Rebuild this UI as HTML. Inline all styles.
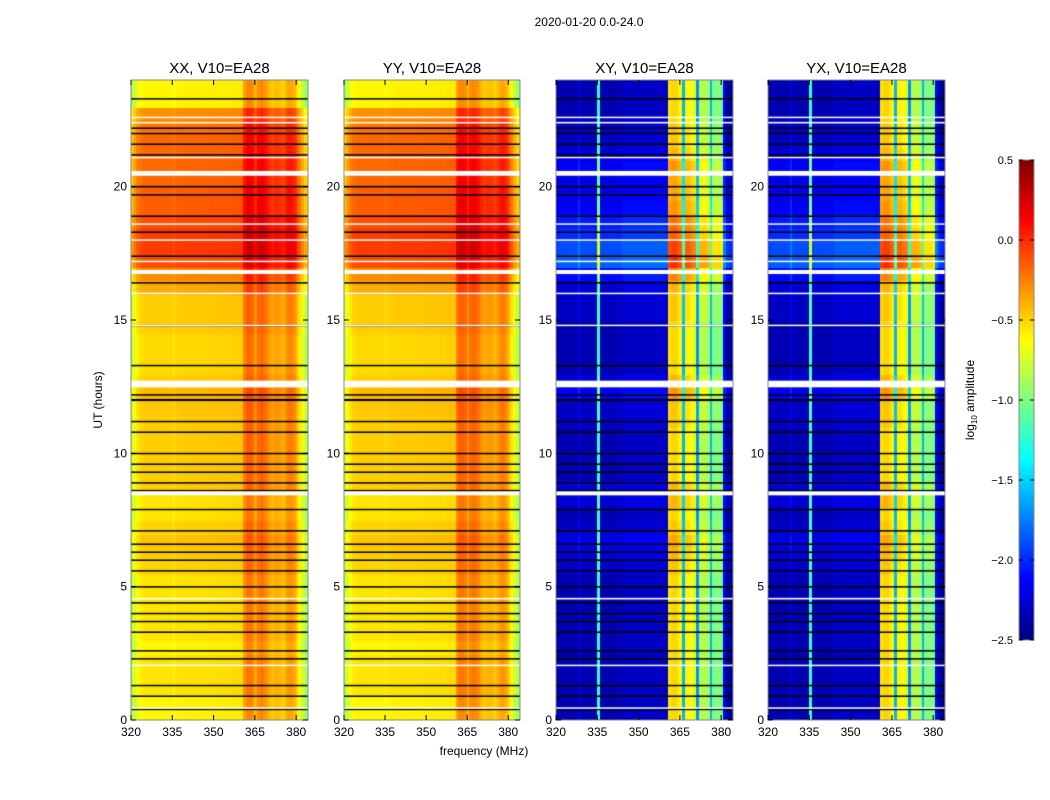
<!DOCTYPE html>
<html><head><meta charset="utf-8"><style>
body{margin:0;background:#fff;font-family:"Liberation Sans",sans-serif;}
#root{position:relative;width:1050px;height:800px;overflow:hidden;}
canvas{position:absolute;}
svg{position:absolute;left:0;top:0;}
</style></head><body>
<div id="root">
<canvas id="c0" width="177" height="640" style="left:131px;top:80px"></canvas>
<canvas id="c1" width="176" height="640" style="left:344px;top:80px"></canvas>
<canvas id="c2" width="177" height="640" style="left:556px;top:80px"></canvas>
<canvas id="c3" width="177" height="640" style="left:768px;top:80px"></canvas>
<canvas id="cb" width="15" height="480" style="left:1019px;top:160px"></canvas>
<svg id="ov" width="1050" height="800"></svg>
</div>
<script>
// frequency bins 320..383 MHz (1 MHz each)
const freqStart = 320;
const freqParallel = [-0.9,-0.78,-0.68,-0.63,-0.61,-0.6,-0.6,-0.6,-0.6,-0.6,-0.6,-0.6,-0.6,-0.6,-0.6,-0.63,-0.6,-0.6,-0.59,-0.59,-0.59,-0.59,-0.59,-0.59,-0.59,-0.59,-0.59,-0.59,-0.59,-0.58,-0.58,-0.58,-0.58,-0.58,-0.58,-0.58,-0.58,-0.57,-0.57,-0.57,-0.57,-0.35,-0.27,-0.27,-0.3,-0.42,-0.3,-0.27,-0.3,-0.35,-0.42,-0.48,-0.44,-0.44,-0.46,-0.5,-0.42,-0.36,-0.36,-0.42,-0.52,-0.66,-0.8,-0.92];
const freqCross = [-2.4,-2.35,-2.35,-2.35,-2.35,-2.35,-2.35,-2.35,-2.2,-2.35,-2.35,-2.35,-2.35,-2.35,-2.35,-1.2,-2.35,-2.35,-2.35,-2.35,-2.35,-2.35,-2.35,-2.35,-2.3,-2.3,-2.3,-2.3,-2.3,-2.3,-2.3,-2.3,-2.3,-2.3,-2.3,-2.3,-2.3,-2.3,-2.3,-2.3,-2.3,-0.55,-0.5,-0.5,-0.55,-0.6,-1.6,-0.6,-0.6,-0.65,-0.7,-1.7,-0.85,-0.85,-0.85,-0.9,-1.6,-1.0,-1.0,-1.0,-1.05,-2.2,-2.4,-2.45];
// time rows, 0.5 h each from 0 to 24 h
const timeParallel = [0,0,0.05,0.05,0.05,0,0.05,0.05,0.05,0.05,0.05,0.1,0.12,0.15,0.1,0.05,0.05,0.12,0.12,0.12,0.12,0.12,0.12,0.14,0.18,0.12,0.08,0.08,0.08,0.12,0.12,0.12,0.22,0.32,0.5,0.55,0.55,0.5,0.45,0.45,0.42,0.42,0.42,0.42,0.38,0.3,0,0];
const timeCross = [0,0,0,0,0,0,0,0,0,0,0,0.05,0.1,0.15,0.05,0,0.1,0.1,0,0,0,0,0.05,0.05,0.2,0.1,0,0,0,0,0.05,0.05,0.1,0.25,0.5,0.45,0.35,0.3,0.2,0.15,0.15,0.2,0.1,0.05,0.05,0,0,0];
// flagged rows: [hour, thickness in hours]
const whiteFlags = [[0.45,0.05],[2.05,0.05],[4.55,0.06],[8.5,0.15],[12.6,0.25],[14.8,0.05],[16.0,0.05],[16.8,0.15],[17.2,0.05],[18.0,0.05],[18.6,0.05],[20.5,0.18],[21.1,0.04],[22.4,0.06],[22.6,0.05]];
const blackFlags = [[0.4,0.05],[0.9,0.04],[1.3,0.04],[2.3,0.04],[2.6,0.04],[3.3,0.04],[3.7,0.04],[4.0,0.04],[4.4,0.04],[5.0,0.04],[5.6,0.04],[6.0,0.04],[6.3,0.04],[6.6,0.04],[7.1,0.04],[7.9,0.04],[8.6,0.06],[8.9,0.04],[9.3,0.04],[9.6,0.04],[10.0,0.04],[10.8,0.04],[11.2,0.04],[12.0,0.08],[12.2,0.04],[13.3,0.04],[14.8,0.04],[16.4,0.04],[17.4,0.04],[18.3,0.04],[18.9,0.04],[19.7,0.04],[20.0,0.06],[21.2,0.04],[21.6,0.04],[22.0,0.04],[22.2,0.04],[23.3,0.04]];
const xTicks = [320,335,350,365,380];
const yTicks = [0,5,10,15,20];
const cbTicks = [0.5,0.0,-0.5,-1.0,-1.5,-2.0,-2.5];
const titles = ["XX, V10=EA28","YY, V10=EA28","XY, V10=EA28","YX, V10=EA28"];

const panels=[{l:131,w:177,c:'c0',cross:false},{l:344,w:176,c:'c1',cross:false},{l:556,w:177,c:'c2',cross:true},{l:768,w:177,c:'c3',cross:true}];
const TOP=80,H=640,FMIN=320,FMAX=384.3,TMAX=24,VMIN=-2.5,VMAX=0.5;
function jet(v){v=Math.max(0,Math.min(1,v));const cl=x=>Math.round(255*Math.max(0,Math.min(1,x)));
return 'rgb('+cl(1.5-Math.abs(4*v-3))+','+cl(1.5-Math.abs(4*v-2))+','+cl(1.5-Math.abs(4*v-1))+')';}
function norm(v){return (v-VMIN)/(VMAX-VMIN);}
panels.forEach(p=>{
  const ctx=document.getElementById(p.c).getContext('2d');
  const xs=f=>(f-FMIN)/(FMAX-FMIN)*p.w;
  const ys=t=>H-t/TMAX*H;
  const fp=p.cross?freqCross:freqParallel, tp=p.cross?timeCross:timeParallel;
  tp.forEach((to,ti)=>{
    fp.forEach((fv,fi)=>{
      const x0=xs(freqStart+fi),x1=xs(freqStart+fi+1);
      const y0=ys((ti+1)*0.5),y1=ys(ti*0.5);
      ctx.fillStyle=jet(norm(fv+to));
      ctx.fillRect(Math.floor(x0),Math.floor(y0),Math.ceil(x1-x0)+1,Math.ceil(y1-y0)+1);
    });
  });
  blackFlags.forEach(b=>{ctx.fillStyle='#000';const y=ys(b[0]+b[1]/2);ctx.fillRect(0,y,p.w,Math.max(1.5,b[1]/TMAX*H));});
  whiteFlags.forEach(b=>{ctx.fillStyle='#fff';const y=ys(b[0]+b[1]/2);ctx.fillRect(0,y,p.w,Math.max(1.5,b[1]/TMAX*H));});
});
// colorbar
(function(){const ctx=document.getElementById('cb').getContext('2d');
for(let y=0;y<480;y++){ctx.fillStyle=jet(1-y/479);ctx.fillRect(0,y,15,1);}})();
// overlay
const NS='http://www.w3.org/2000/svg',ov=document.getElementById('ov');
function el(tag,attrs,txt){const e=document.createElementNS(NS,tag);for(const k in attrs)e.setAttribute(k,attrs[k]);if(txt!==undefined)e.textContent=txt;ov.appendChild(e);return e;}
panels.forEach((p,i)=>{
  const xs=f=>p.l+(f-FMIN)/(FMAX-FMIN)*p.w, ys=t=>TOP+H-t/TMAX*H;
  const fr=el('rect',{x:p.l,y:TOP,width:p.w,height:H,fill:'none',stroke:'#888','stroke-width':1});
  
  
  const t=el('text',{x:p.l+p.w/2,y:73,'text-anchor':'middle','font-size':15,fill:'#000'},titles[i]);
  
  
  xTicks.forEach(v=>{const x=xs(v);
    el('line',{x1:x,x2:x,y1:TOP+H,y2:TOP+H-5,stroke:'#000'});el('line',{x1:x,x2:x,y1:TOP,y2:TOP+5,stroke:'#000'});
    const lb=el('text',{x:x,y:TOP+H+16,'text-anchor':'middle','font-size':12},String(v));
    
    });
  yTicks.forEach(v=>{const y=ys(v);
    el('line',{x1:p.l,x2:p.l+5,y1:y,y2:y,stroke:'#000'});el('line',{x1:p.l+p.w,x2:p.l+p.w-5,y1:y,y2:y,stroke:'#000'});
    const lb=el('text',{x:p.l-4,y:y+4,'text-anchor':'end','font-size':12},String(v));
    
    });
});
const st=el('text',{x:589,y:26,'text-anchor':'middle','font-size':12},'2020-01-20 0.0-24.0');


const yl=el('text',{x:0,y:0,'text-anchor':'middle','font-size':12,transform:'translate(102,400) rotate(-90)'},'UT (hours)');


const xl=el('text',{x:484,y:755,'text-anchor':'middle','font-size':12},'frequency (MHz)');


const cf=el('rect',{x:1019,y:160,width:15,height:480,fill:'none',stroke:'#888'});


cbTicks.forEach(v=>{const y=160+(VMAX-v)/(VMAX-VMIN)*480;
  el('line',{x1:1019,x2:1023,y1:y,y2:y,stroke:'#000'});el('line',{x1:1034,x2:1030,y1:y,y2:y,stroke:'#000'});
  const lb=el('text',{x:1013,y:y+4,'text-anchor':'end','font-size':11},(v<0?'\u2212':'')+Math.abs(v).toFixed(1));
  
  });
const cl=el('text',{x:0,y:0,'text-anchor':'middle','font-size':12,transform:'translate(974,400) rotate(-90)'});
cl.innerHTML='log<tspan font-size="8" dy="3">10</tspan><tspan dy="-3"> amplitude</tspan>';


</script>
</body></html>
